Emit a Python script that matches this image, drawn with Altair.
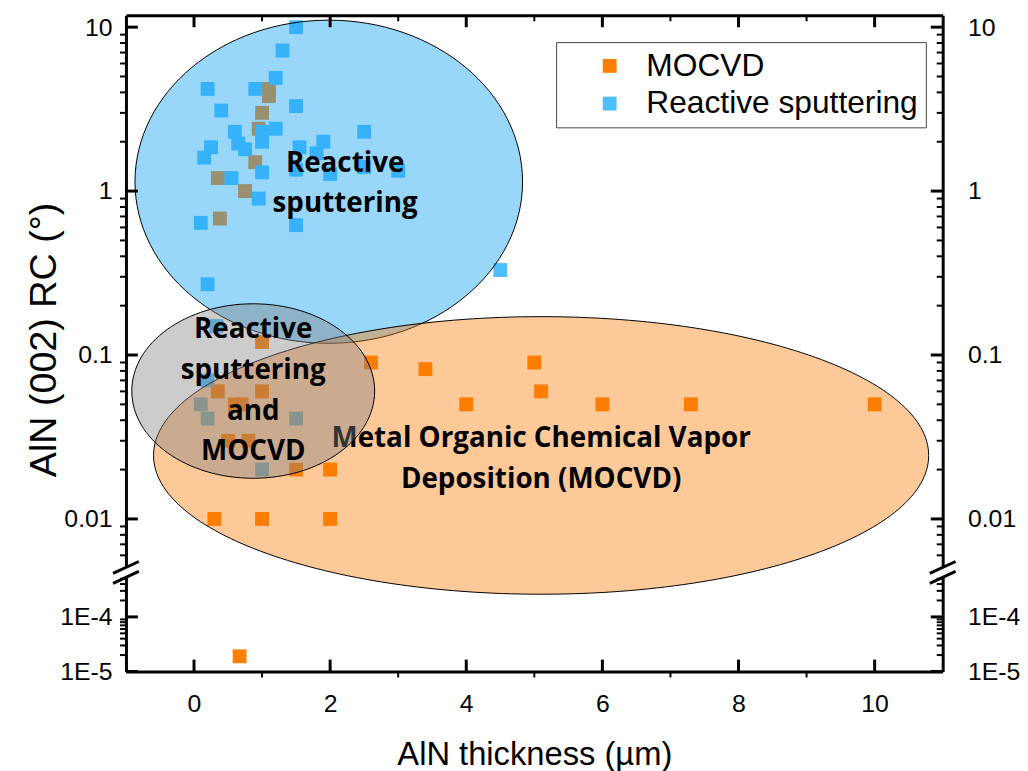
import altair as alt
import pandas as pd

# ---------------- data ----------------
SERIES = ["MOCVD", "Reactive sputtering"]
COLORS = ["#FF8000", "#4DBEFF"]

MOCVD_X = [1.1, 1.1, 1.0, 0.95, 0.9, 0.35, 0.75, 0.38, 1.0, 2.6, 3.4, 0.35, 1.0,
           5.0, 5.1, 4.0, 6.0, 7.3, 10.0, 0.6, 0.7, 0.5, 0.8, 1.5, 2.0, 0.3, 1.0, 2.0]
MOCVD_Y = [4.2, 3.8, 3.0, 2.4, 1.5, 1.2, 1.0, 0.68, 0.12, 0.09, 0.082, 0.06, 0.06,
           0.09, 0.06, 0.05, 0.05, 0.05, 0.05, 0.05, 0.05, 0.03, 0.03, 0.02, 0.02, 0.01, 0.01, 0.01]

RS_X = [1.5, 1.3, 1.2, 0.2, 0.9, 0.4, 1.5, 0.6, 1.0, 1.2, 1.0, 2.5, 0.65, 0.75, 0.25,
        0.15, 1.55, 1.9, 1.8, 1.0, 1.5, 2.0, 2.5, 3.0, 0.55, 0.95, 0.1, 1.5, 0.2, 4.5,
        0.33, 0.2, 0.1, 0.2, 1.5, 1.0]
RS_Y = [10.0, 7.2, 4.9, 4.2, 4.2, 3.1, 3.3, 2.3, 2.3, 2.4, 2.0, 2.3, 1.95, 1.8, 1.85,
        1.6, 1.85, 2.0, 1.7, 1.3, 1.35, 1.27, 1.4, 1.33, 1.2, 0.9, 0.64, 0.62, 0.27, 0.33,
        0.15, 0.07, 0.05, 0.041, 0.041, 0.02]

# point below the axis break
LOW_X = [0.67]
LOW_Y = [1.9e-5]
LOW_SERIES = ["MOCVD"]

# ellipses (centres in data coordinates)
ELLIPSE_NAMES = ["Reactive sputtering", "MOCVD", "Reactive sputtering and MOCVD"]
ELLIPSE_X = [1.98, 5.10, 0.87]
ELLIPSE_Y = [1.14, 0.0244, 0.0603]

# annotation texts (anchor = first line)
LABEL_TEXT = ["Reactive\nsputtering",
              "Metal Organic Chemical Vapor\nDeposition (MOCVD)",
              "Reactive\nsputtering\nand\nMOCVD"]
LABEL_X = [2.22, 5.10, 0.87]
LABEL_Y = [1.47, 0.0305, 0.141]

# axes
X_DOMAIN = [-1, 11]
X_MAJOR = [0, 2, 4, 6, 8, 10]
X_MINOR = [1, 3, 5, 7, 9]
Y_TOP_DOMAIN = [0.00506, 11.8]
Y_LOW_DOMAIN = [1e-5, 5.3e-4]
Y_TOP_MAJOR = [0.01, 0.1, 1, 10]
Y_LOW_MAJOR = [1e-5, 1e-4]
Y_TOP_MINOR = [k * 10.0 ** d for d in range(-3, 2) for k in range(2, 10)
               if Y_TOP_DOMAIN[0] <= k * 10.0 ** d <= Y_TOP_DOMAIN[1]]
Y_LOW_MINOR = [k * 10.0 ** d for d in range(-5, -3) for k in range(2, 10)
               if Y_LOW_DOMAIN[0] <= k * 10.0 ** d <= Y_LOW_DOMAIN[1]]

# ---------------- tables ----------------
df_pts = pd.DataFrame({
    "method": [SERIES[0]] * len(MOCVD_X) + [SERIES[1]] * len(RS_X),
    "thickness": MOCVD_X + RS_X,
    "rc": MOCVD_Y + RS_Y,
})
df_low = pd.DataFrame({"method": LOW_SERIES, "thickness": LOW_X, "rc": LOW_Y})
df_ell = pd.DataFrame({"name": ELLIPSE_NAMES, "thickness": ELLIPSE_X, "rc": ELLIPSE_Y})
df_lab = pd.DataFrame({"label": LABEL_TEXT, "thickness": LABEL_X, "rc": LABEL_Y})

FONT = "Liberation Sans"
W = 824
H_TOP = 557
H_LOW = 95

xscale = alt.Scale(domain=X_DOMAIN, nice=False, zero=False)
ytop_scale = alt.Scale(type="log", domain=Y_TOP_DOMAIN, nice=False)
ylow_scale = alt.Scale(type="log", domain=Y_LOW_DOMAIN, nice=False)
color_scale = alt.Scale(domain=SERIES, range=COLORS)

legend = alt.Legend(
    title=None, orient="none", legendX=434, legendY=27,
    symbolType="square", symbolSize=196, symbolStrokeWidth=0, symbolOpacity=1,
    symbolOffset=30, labelFont=FONT, labelFontSize=32, labelColor="black",
    labelOffset=21, labelLimit=600, rowPadding=6, padding=8, strokeColor="#444444",
    fillColor="white", cornerRadius=0,
)


def axis(**kw):
    base = dict(domainWidth=3, domainColor="black", ticks=False,
                labelFont=FONT, labelFontSize=25, labelColor="black",
                labelOverlap=False, labelFlush=False, grid=False,
                titleFont=FONT, titleFontSize=33, titleFontWeight="normal",
                titleColor="black")
    base.update(kw)
    return alt.Axis(**base)


LOG_LABEL = "format(datum.value, '~g')"
EXP_LABEL = "'1E' + round(log(datum.value)/LN10)"

left_top_axis = axis(orient="left", values=Y_TOP_MAJOR, labelExpr=LOG_LABEL,
                     labelPadding=14, titleFontSize=38,
                     titleX=-82, titleY=327, titleAngle=-90,
                     titleAlign="center", titleBaseline="middle")
right_top_axis = axis(orient="right", values=Y_TOP_MAJOR, labelExpr=LOG_LABEL,
                      labelPadding=25)
left_low_axis = axis(orient="left", values=Y_LOW_MAJOR, labelExpr=EXP_LABEL,
                     labelPadding=14)
right_low_axis = axis(orient="right", values=Y_LOW_MAJOR, labelExpr=EXP_LABEL,
                      labelPadding=25)
top_x_axis = axis(orient="top", values=X_MAJOR, labels=False)
bottom_x_axis = axis(orient="bottom", values=X_MAJOR, labelPadding=20, titlePadding=23)


# ---------------- tick marks (inward majors, Origin style) ----------------
def yticks(values, scale, a, b, width):
    d = pd.DataFrame({"v": values})
    return alt.Chart(d).mark_rule(color="black", strokeWidth=width).encode(
        y=alt.Y("v:Q", scale=scale, axis=None), x=alt.value(a), x2=alt.value(b))


def xticks(values, a, b, width):
    d = pd.DataFrame({"v": values})
    return alt.Chart(d).mark_rule(color="black", strokeWidth=width).encode(
        x=alt.X("v:Q", scale=xscale, axis=None), y=alt.value(a), y2=alt.value(b))


def panel_ticks(major, minor, scale, h, top_side):
    layers = [
        yticks(major, scale, 0, 12, 3),      # left major, inward
        yticks(minor, scale, -6, 0, 2),      # left minor, outward
        yticks(major, scale, W - 12, W, 3),  # right major, inward
        yticks(minor, scale, W - 6, W, 2),   # right minor, inward
    ]
    if top_side:
        layers += [xticks(X_MAJOR, 0, 12, 3), xticks(X_MINOR, 0, 6, 2)]
    else:
        layers += [xticks(X_MAJOR, h - 12, h, 3), xticks(X_MINOR, h, h + 6, 2)]
    return layers


# ---------------- top panel ----------------
pts = alt.Chart(df_pts).mark_point(shape="square", filled=True, size=196, opacity=1).encode(
    x=alt.X("thickness:Q", scale=xscale, axis=top_x_axis, title=None),
    y=alt.Y("rc:Q", scale=ytop_scale, axis=left_top_axis, title="AlN (002) RC (°)"),
    color=alt.Color("method:N", scale=color_scale, legend=legend),
)


def epath(ratio):
    return f"M-1,0A1,{ratio},0,1,1,1,0A1,{ratio},0,1,1,-1,0Z"


def ellipse(name, w_px, h_px, fill, alpha, y_axis=None):
    y_enc = alt.Y("rc:Q", scale=ytop_scale, axis=y_axis, title=None)
    return alt.Chart(df_ell).transform_filter(alt.datum.name == name).mark_point(
        shape=epath(round(h_px / w_px, 4)), size=w_px ** 2, filled=True, fill=fill,
        fillOpacity=alpha, stroke="black", strokeWidth=1, strokeOpacity=1, opacity=1,
    ).encode(
        x=alt.X("thickness:Q", scale=xscale, axis=None),
        y=y_enc,
    )


ell_blue = ellipse(ELLIPSE_NAMES[0], 391, 326, "#1BA4F4", 0.45, right_top_axis)
ell_orange = ellipse(ELLIPSE_NAMES[1], 782, 280, "#FA7800", 0.4)
ell_grey = ellipse(ELLIPSE_NAMES[2], 245, 176, "#808080", 0.4)


def labels(which):
    return alt.Chart(df_lab).transform_filter(
        alt.FieldOneOfPredicate(field="label", oneOf=which)
    ).mark_text(
        font="Open Sans", fontWeight="bold", fontSize=28, lineBreak="\n",
        lineHeight=41, align="center", baseline="middle", color="black",
    ).encode(
        x=alt.X("thickness:Q", scale=xscale, axis=None),
        y=alt.Y("rc:Q", scale=ytop_scale, axis=None),
        text="label:N",
    )


txt1 = labels(LABEL_TEXT[:2])
txt2 = labels(LABEL_TEXT[2:])

top = alt.layer(
    pts, ell_blue, ell_orange, txt1, ell_grey, txt2,
    *panel_ticks(Y_TOP_MAJOR, Y_TOP_MINOR, ytop_scale, H_TOP, True)
).resolve_axis(x="independent", y="independent").properties(width=W, height=H_TOP)

# ---------------- bottom panel ----------------
pts_low = alt.Chart(df_low).mark_point(shape="square", filled=True, size=196, opacity=1).encode(
    x=alt.X("thickness:Q", scale=xscale, axis=bottom_x_axis, title="AlN thickness (µm)"),
    y=alt.Y("rc:Q", scale=ylow_scale, axis=left_low_axis, title=None),
    color=alt.Color("method:N", scale=color_scale, legend=legend),
)
pts_low_r = alt.Chart(df_low).mark_point(opacity=0).encode(
    x=alt.X("thickness:Q", scale=xscale, axis=None),
    y=alt.Y("rc:Q", scale=ylow_scale, axis=right_low_axis, title=None),
)

one = pd.DataFrame({"k": [0]})


def brk(xc, yc):
    return alt.Chart(one).mark_rule(color="black", strokeWidth=3).encode(
        x=alt.value(xc - 13), x2=alt.value(xc + 13),
        y=alt.value(yc + 6), y2=alt.value(yc - 6),
    )


breaks = [brk(0, -10), brk(0, 0), brk(W, -10), brk(W, 0)]

low = alt.layer(
    pts_low, pts_low_r, *breaks,
    *panel_ticks(Y_LOW_MAJOR, Y_LOW_MINOR, ylow_scale, H_LOW, False)
).resolve_axis(x="independent", y="independent").properties(width=W, height=H_LOW)

chart = alt.vconcat(top, low, spacing=10, bounds="flush").resolve_scale(
    y="independent"
).properties(
    padding={"left": 18, "top": 2, "right": 0, "bottom": 2},
    background="white",
).configure_view(strokeWidth=0, strokeOpacity=0, stroke="transparent")

chart.save("out.html", embed_options={"renderer": "svg", "actions": False})
